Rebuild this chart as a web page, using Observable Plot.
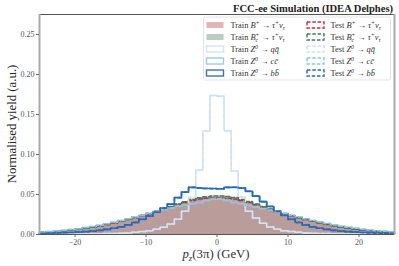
<!DOCTYPE html>
<html><head><meta charset="utf-8">
<script src="https://cdn.jsdelivr.net/npm/d3@7"></script>
<script src="https://cdn.jsdelivr.net/npm/@observablehq/plot@0.6"></script>
<style>
body{margin:0;background:#fff}
#chart{position:relative;width:399px;height:266px}
</style>
</head><body><div id="chart"></div>
<script>
// bin edges (GeV)
const binEdges = [-25,-24,-23,-22,-21,-20,-19,-18,-17,-16,-15,-14,-13,-12,-11,-10,-9,-8,-7,-6,-5,-4,-3,-2,-1,0,1,2,3,4,5,6,7,8,9,10,11,12,13,14,15,16,17,18,19,20,21,22,23,24,25];

const trainBplus = [0.0028,0.0033,0.0039,0.0046,0.0055,0.0066,0.0078,0.0092,0.0108,0.0125,0.0145,0.0165,0.0188,0.021,0.0235,0.026,0.0288,0.0315,0.0345,0.0375,0.040,0.0425,0.0445,0.0455,0.046,
0.046,0.0455,0.0445,0.0425,0.040,0.0372,0.0343,0.0313,0.0285,0.0258,0.0232,0.0208,0.0186,0.0165,0.0145,0.0126,0.011,0.0094,0.008,0.0068,0.0057,0.0047,0.0039,0.0033,0.0027];

const trainBc = [0.0027,0.0032,0.0038,0.0046,0.0054,0.0065,0.0077,0.0091,0.0107,0.0125,0.0145,0.0166,0.0189,0.0212,0.0237,0.0263,0.0291,0.0319,0.0349,0.038,0.0408,0.0435,0.0458,0.0472,0.048,
0.0481,0.0474,0.046,0.0438,0.041,0.0381,0.035,0.0318,0.0289,0.0261,0.0234,0.0209,0.0186,0.0165,0.0145,0.0126,0.0109,0.0093,0.0079,0.0067,0.0056,0.0046,0.0038,0.0032,0.0026];

const trainQQ = [0.0003,0.0003,0.0004,0.0004,0.0005,0.0006,0.0007,0.0008,0.0009,0.0011,0.0013,0.0016,0.002,0.0028,0.0036,0.0048,0.0065,0.009,0.013,0.019,0.029,0.046,0.080,0.129,0.174,
0.173,0.130,0.079,0.047,0.029,0.0205,0.014,0.0095,0.0065,0.0048,0.0036,0.0028,0.002,0.0016,0.0013,0.0011,0.0009,0.0008,0.0007,0.0006,0.0005,0.0004,0.0004,0.0003,0.0003];

const trainCC = [0.0032,0.0038,0.0045,0.0053,0.0062,0.0073,0.0086,0.010,0.0116,0.0134,0.0153,0.0174,0.0196,0.0218,0.0242,0.0266,0.029,0.0313,0.0335,0.0352,0.0368,0.0385,0.040,0.0425,0.0445,
0.0445,0.0425,0.040,0.0382,0.0362,0.0345,0.0325,0.0305,0.0283,0.0262,0.024,0.0218,0.0197,0.0176,0.0156,0.0137,0.012,0.0104,0.009,0.0078,0.0067,0.0057,0.0048,0.0041,0.0035];

const trainBB = [0.0013,0.0015,0.0018,0.0021,0.0025,0.003,0.0036,0.0043,0.0052,0.0064,0.0078,0.0095,0.012,0.015,0.019,0.023,0.028,0.033,0.038,0.046,0.053,0.059,0.058,0.0575,0.0575,
0.057,0.059,0.059,0.058,0.054,0.048,0.041,0.035,0.029,0.024,0.019,0.015,0.012,0.0095,0.0078,0.0064,0.0052,0.0043,0.0036,0.003,0.0025,0.0021,0.0018,0.0015,0.0013];

const testBplus = [0.0028,0.0033,0.0039,0.0046,0.0055,0.0066,0.0078,0.0092,0.0108,0.0126,0.0145,0.0166,0.0188,0.021,0.0236,0.026,0.0289,0.0316,0.0345,0.0376,0.0401,0.0424,0.0443,0.0452,0.0455,
0.0456,0.0452,0.0443,0.0424,0.0401,0.0373,0.0343,0.0314,0.0286,0.0258,0.0233,0.0208,0.0187,0.0165,0.0146,0.0126,0.011,0.0094,0.008,0.0068,0.0057,0.0047,0.0039,0.0033,0.0027];

const testBc = [0.0027,0.0032,0.0038,0.0046,0.0055,0.0065,0.0077,0.0092,0.0107,0.0125,0.0146,0.0166,0.019,0.0212,0.0238,0.0263,0.0292,0.032,0.0349,0.0381,0.0409,0.0436,0.0459,0.0473,0.0481,
0.0482,0.0475,0.0461,0.0438,0.0411,0.0381,0.0351,0.0319,0.0289,0.0262,0.0234,0.021,0.0186,0.0166,0.0145,0.0127,0.0109,0.0093,0.0079,0.0067,0.0056,0.0046,0.0038,0.0032,0.0026];

const testQQ = [0.0003,0.0003,0.0004,0.0004,0.0005,0.0006,0.0007,0.0008,0.0009,0.0011,0.0013,0.0016,0.002,0.0028,0.0036,0.0048,0.0066,0.009,0.013,0.0192,0.0292,0.0465,0.0805,0.1295,0.1735,
0.1725,0.1295,0.0795,0.0472,0.0292,0.0205,0.014,0.0095,0.0066,0.0048,0.0036,0.0028,0.002,0.0016,0.0013,0.0011,0.0009,0.0008,0.0007,0.0006,0.0005,0.0004,0.0004,0.0003,0.0003];

const testCC = [0.0032,0.0038,0.0045,0.0053,0.0062,0.0073,0.0086,0.0101,0.0116,0.0134,0.0154,0.0174,0.0196,0.0219,0.0242,0.0267,0.029,0.0314,0.0335,0.0353,0.0368,0.0386,0.0401,0.0426,0.0446,
0.0446,0.0426,0.0401,0.0383,0.0362,0.0346,0.0325,0.0306,0.0283,0.0263,0.024,0.0219,0.0197,0.0176,0.0157,0.0137,0.012,0.0104,0.009,0.0078,0.0067,0.0057,0.0048,0.0041,0.0035];

const testBB = [0.0013,0.0015,0.0018,0.0021,0.0025,0.003,0.0036,0.0043,0.0052,0.0064,0.0078,0.0096,0.012,0.0151,0.019,0.0231,0.028,0.0331,0.038,0.0461,0.0531,0.0589,0.0581,0.0576,0.0574,
0.0571,0.0589,0.0591,0.0581,0.0541,0.0481,0.0411,0.0351,0.029,0.024,0.019,0.015,0.012,0.0095,0.0078,0.0064,0.0052,0.0043,0.0036,0.003,0.0025,0.0021,0.0018,0.0015,0.0013];

const xDomain = [-25, 25];
const yDomain = [0, 0.275];
const xTicks = [-20, -10, 0, 10, 20];
const yTicks = [0, 0.05, 0.10, 0.15, 0.20, 0.25];

const colRed = "#bc2b37", colGreen = "#50826a";
const opRed = 0.29, opGreen = 0.4;
const colQQ = "#d4e5f3", colCC = "#9ecae1", colBB = "#3a73bd";
const colRedTest = "#c0303c", colGreenTest = "#3c7f5c", colQQTest = "#cfe1f2", colCCTest = "#8fc2e0", colBBTest = "#2668bd";

function steps(vals) {
  const pts = vals.map((v, i) => ({x: binEdges[i], y: v}));
  pts.push({x: binEdges[binEdges.length - 1], y: vals[vals.length - 1]});
  return pts;
}
const fillMark = (vals, color, op) => Plot.areaY(steps(vals), {x: "x", y: "y", curve: "step-after", fill: color, fillOpacity: op});
const lineMark = (vals, color, w, dash) => Plot.lineY(steps(vals), {x: "x", y: "y", curve: "step-after", stroke: color, strokeWidth: w, strokeDasharray: dash});

const serif = "'Liberation Serif','DejaVu Serif',serif";
const dash = "4,2.2";

const plot = Plot.plot({
  width: 399, height: 266,
  marginLeft: 39, marginRight: 5, marginTop: 14, marginBottom: 32,
  style: {fontFamily: serif, fontSize: "8px", background: "#fff", color: "#444"},
  x: {domain: xDomain, label: null},
  y: {domain: yDomain, label: null},
  marks: [
    fillMark(trainBc, colGreen, opGreen),
    fillMark(trainBplus, colRed, opRed),
    lineMark(trainQQ, colQQ, 1.5, null),
    lineMark(trainCC, colCC, 1.5, null),
    lineMark(trainBB, colBB, 1.7, null),
    lineMark(testBplus, colRedTest, 1.5, dash),
    lineMark(testBc, colGreenTest, 1.5, dash),
    lineMark(testQQ, colQQTest, 1.5, dash),
    lineMark(testCC, colCCTest, 1.5, dash),
    lineMark(testBB, colBBTest, 1.6, dash),
    Plot.ruleY([yDomain[0]], {stroke: "#555", strokeWidth: 1}),
    Plot.ruleY([yDomain[1]], {stroke: "#555", strokeWidth: 1}),
    Plot.ruleX([xDomain[0]], {stroke: "#aaa", strokeWidth: 2}),
    Plot.ruleX([xDomain[1]], {stroke: "#aaa", strokeWidth: 2}),
    Plot.axisX({ticks: xTicks, tickSize: 3, tickPadding: 2, fontSize: 8, fill: "#555", stroke: "#666",
      tickFormat: d => d < 0 ? "\u2212" + (-d) : String(d), label: null}),
    Plot.axisY({ticks: yTicks, tickSize: 3, tickPadding: 2, fontSize: 8, fill: "#555", stroke: "#666",
      tickFormat: d3.format(".2f"), label: null})
  ]
});
document.getElementById("chart").appendChild(plot);

const svg = d3.select(plot);

function rich(parent, x, y, segs, size, anchor) {
  const t = parent.append("text").attr("x", x).attr("y", y).attr("font-size", size)
    .attr("font-family", serif).attr("fill", "#333").attr("text-anchor", anchor || "start");
  let shift = 0;
  for (const seg of segs) {
    const [s, k, dx] = seg;
    const ts = t.append("tspan").text(s);
    const target = k === "sup" ? -size * 0.38 : k === "sub" ? size * 0.25 : 0;
    if (target - shift !== 0) ts.attr("dy", target - shift);
    shift = target;
    if (dx) ts.attr("dx", dx);
    if (k === "sup" || k === "sub") ts.attr("font-size", size * 0.7).attr("font-style", "italic");
    if (k === "i") ts.attr("font-style", "italic");
  }
  return t;
}

// title
svg.append("text").attr("x", 393).attr("y", 11.5).attr("text-anchor", "end")
  .attr("font-family", serif).attr("font-weight", "bold").attr("font-size", 10.5).attr("fill", "#222")
  .attr("textLength", 160).attr("lengthAdjust", "spacingAndGlyphs")
  .text("FCC-ee Simulation (IDEA Delphes)");

// axis labels
const yl = svg.append("g").attr("transform", "translate(15.5,124) rotate(-90)");
yl.append("text").attr("text-anchor", "middle").attr("font-family", serif).attr("font-size", 12.8).attr("fill", "#222")
  .text("Normalised yield (a.u.)");
rich(svg, 216, 258, [["p", "i"], ["z", "sub"], ["(3π) (GeV)", ""]], 12.8, "middle");

// legend
const lg = svg.append("g");
lg.append("rect").attr("x", 203.5).attr("y", 17).attr("width", 187).attr("height", 63).attr("rx", 2)
  .attr("fill", "#fff").attr("fill-opacity", 0.85).attr("stroke", "#ddd").attr("stroke-width", 0.8);

const sigP = [["B", "i"], ["+", "sup"], [" → ", ""], ["τ", "i"], ["+", "sup"], ["ν", "i"], ["τ", "sub"]];
const sigC = [["B", "i"], ["c", "sub"], ["+", "sup", -3], [" → ", ""], ["τ", "i"], ["+", "sup"], ["ν", "i"], ["τ", "sub"]];
const zqq = [["Z", "i"], ["0", "sup"], [" → ", ""], ["qq̄", "i"]];
const zcc = [["Z", "i"], ["0", "sup"], [" → ", ""], ["cc̄", "i"]];
const zbb = [["Z", "i"], ["0", "sup"], [" → ", ""], ["bb̄", "i"]];
const legendRows = [
  {segs: sigP, train: {fill: colRed, op: 0.36}, test: colRedTest},
  {segs: sigC, train: {fill: colGreen, op: opGreen}, test: colGreenTest},
  {segs: zqq, train: {stroke: colQQ}, test: colQQTest},
  {segs: zcc, train: {stroke: colCC}, test: colCCTest},
  {segs: zbb, train: {stroke: colBB}, test: colBBTest}
];
const rowY = [25, 37, 49, 61, 73];
legendRows.forEach((r, i) => {
  const cy = rowY[i];
  const sw = lg.append("rect").attr("x", 206.5).attr("y", cy - 3).attr("width", 17).attr("height", 6);
  if (r.train.fill) sw.attr("fill", r.train.fill).attr("fill-opacity", r.train.op);
  else sw.attr("fill", "none").attr("stroke", r.train.stroke).attr("stroke-width", 1.4);
  rich(lg, 230.5, cy + 2.8, [["Train ", ""], ...r.segs], 8.4);
  lg.append("rect").attr("x", 307).attr("y", cy - 3).attr("width", 17).attr("height", 6)
    .attr("fill", "none").attr("stroke", r.test).attr("stroke-width", 1.4).attr("stroke-dasharray", "3.5,1.8");
  rich(lg, 330.5, cy + 2.8, [["Test ", ""], ...r.segs], 8.4);
});
</script>
</body></html>
